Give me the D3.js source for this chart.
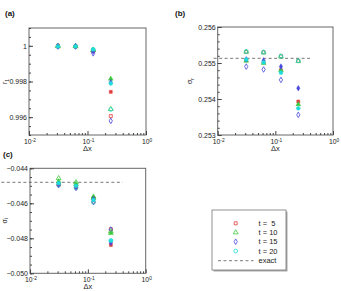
<!DOCTYPE html>
<html>
<head>
<meta charset="utf-8">
<script src="https://cdn.jsdelivr.net/npm/d3@7"></script>
<style>
  body { margin: 0; background: #fff; }
  svg { display: block; font-family: "Liberation Sans", Arial, sans-serif; }
</style>
</head>
<body>
<svg id="chart" width="341" height="291"></svg>
<script>
// grid spacings
const dx = [0.03125, 0.0625, 0.125, 0.25];
const seriesNames = ["t =  5", "t = 10", "t = 15", "t = 20"];

// panel (a): r_1  -- rows are t=5,10,15,20
const rOpen = [
    [0.99997, 0.99997, 0.99972, 0.99606],
    [0.99997, 0.99997, 0.99975, 0.99645],
    [0.99996, 0.99996, 0.99958, 0.99579],
    [0.99998, 0.99998, 0.99980, 0.99643]
];
const rFilled = [
    [1.00000, 0.99998, 0.99975, 0.99742],
    [1.00000, 0.99999, 0.99978, 0.99815],
    [0.99999, 0.99998, 0.99968, 0.99795],
    [0.99997, 0.99997, 0.99980, 0.99789]
];

// panel (b): sigma_r
const sigRExact = 0.25513;
const sigROpen = [
    [0.25531, 0.25530, 0.25519, 0.25506],
    [0.25531, 0.25529, 0.25518, 0.25505],
    [0.25490, 0.25482, 0.25453, 0.25356],
    [0.25532, 0.25530, 0.25519, 0.25506]
];
const sigRFilled = [
    [0.25508, 0.25502, 0.25480, 0.25393],
    [0.25506, 0.25500, 0.25480, 0.25385],
    [0.25510, 0.25507, 0.25490, 0.25430],
    [0.25510, 0.25502, 0.25473, 0.25374]
];

// panel (c): sigma_i
const sigIExact = -0.0448;
const sigIOpen = [
    [-0.04495, -0.04510, -0.04592, -0.04748],
    [-0.04457, -0.04480, -0.04570, -0.04760],
    [-0.04497, -0.04512, -0.04593, -0.04750],
    [-0.04495, -0.04511, -0.04594, -0.04812]
];
const sigIFilled = [
    [-0.04490, -0.04505, -0.04570, -0.04838],
    [-0.04475, -0.04490, -0.04562, -0.04771],
    [-0.04490, -0.04505, -0.04575, -0.04825],
    [-0.04485, -0.04500, -0.04581, -0.04814]
];

const colors = ["#e03c3c", "#3cc83c", "#4646dc", "#1edcdc"];
const shapes = [d3.symbolSquare, d3.symbolTriangle, d3.symbolDiamond, d3.symbolCircle];
const shapeSize = [9, 10, 9, 11];

const svg = d3.select("#chart");

function drawPanel(p) {
    const x = d3.scaleLog().domain([0.01, 1]).range([p.left, p.right]);
    const y = d3.scaleLinear().domain(p.yDomain).range([p.bottom, p.top]);
    const g = svg.append("g");

    // frame
    g.append("rect")
        .attr("x", p.left).attr("y", p.top)
        .attr("width", p.right - p.left).attr("height", p.bottom - p.top)
        .attr("fill", "none").attr("stroke", "#666").attr("stroke-width", 1);

    // x axis, log ticks inward
    const xMinor = [];
    [0.01, 0.1].forEach(dec => { for (let k = 2; k <= 9; k++) xMinor.push(dec * k); });
    g.append("g").attr("transform", `translate(0,${p.bottom})`)
        .call(d3.axisBottom(x).tickValues(xMinor).tickSize(-2).tickFormat(""))
        .call(s => s.select(".domain").remove())
        .selectAll("line").attr("stroke", "#444");
    const xAx = g.append("g").attr("transform", `translate(0,${p.bottom})`)
        .call(d3.axisBottom(x).tickValues([0.01, 0.1, 1]).tickSize(-4).tickFormat(""))
        .call(s => s.select(".domain").remove());
    xAx.selectAll("line").attr("stroke", "#444");
    xAx.selectAll(".tick text").remove();
    [[0.01, "-2"], [0.1, "-1"], [1, "0"]].forEach(([v, e]) => {
        const t = g.append("text").attr("x", x(v) + 1).attr("y", p.bottom + 9)
            .attr("text-anchor", "middle").attr("font-size", 6.8).attr("fill", "#222");
        t.append("tspan").text("10");
        t.append("tspan").attr("dy", -2.5).attr("font-size", 4.8).text(e);
    });
    g.append("text").attr("x", (p.left + p.right) / 2).attr("y", p.bottom + 15.5)
        .attr("text-anchor", "middle").attr("font-size", 7.5).attr("fill", "#222").text("\u0394x");

    // y axis
    g.append("g").attr("transform", `translate(${p.left},0)`)
        .call(d3.axisLeft(y).tickValues(d3.range(p.yDomain[0], p.yDomain[1] + p.yMinor / 2, p.yMinor)).tickSize(-2).tickFormat(""))
        .call(s => s.select(".domain").remove())
        .selectAll("line").attr("stroke", "#444");
    const yAx = g.append("g").attr("transform", `translate(${p.left},0)`)
        .call(d3.axisLeft(y).tickValues(p.yTicks).tickSize(-4).tickPadding(2).tickFormat(p.yFormat))
        .call(s => s.select(".domain").remove());
    yAx.selectAll("line").attr("stroke", "#444");
    yAx.selectAll("text").attr("font-size", 7).attr("fill", "#222")
        .attr("font-family", "'Liberation Sans', Arial, sans-serif");

    const yl = g.append("text")
        .attr("transform", `translate(${p.yLabelX},${(p.top + p.bottom) / 2}) rotate(-90)`)
        .attr("text-anchor", "middle").attr("font-size", 7).attr("fill", "#222");
    yl.append("tspan").text(p.yLabel);
    yl.append("tspan").attr("dy", 1.8).attr("font-size", 5).text(p.yLabelSub);

    g.append("text").attr("x", p.tagX).attr("y", p.tagY)
        .attr("font-size", 8).attr("font-weight", "bold").attr("fill", "#111").text(p.tag);

    // exact solution
    if (p.exact !== undefined) {
        g.append("path")
            .datum([p.exactFrom, 0.4])
            .attr("fill", "none").attr("stroke", "#555").attr("stroke-width", 0.8)
            .attr("stroke-dasharray", "3,2.5")
            .attr("d", d3.line().x(d => x(d)).y(() => y(p.exact)));
    }

    // open markers
    p.open.forEach((vals, si) => {
        g.selectAll(null).data(vals).join("path")
            .attr("transform", (d, i) => `translate(${x(dx[i])},${y(d)})`)
            .attr("d", d3.symbol().type(shapes[si]).size(shapeSize[si]))
            .attr("fill", "none").attr("stroke", colors[si]).attr("stroke-width", 0.8);
    });
    // filled markers
    p.filled.forEach((vals, si) => {
        g.selectAll(null).data(vals).join("path")
            .attr("transform", (d, i) => `translate(${x(dx[i])},${y(d)})`)
            .attr("d", d3.symbol().type(shapes[si]).size(shapeSize[si]))
            .attr("fill", colors[si]).attr("stroke", colors[si]).attr("stroke-width", 0.5);
    });
}

drawPanel({
    left: 29, right: 146, top: 28, bottom: 135,
    yDomain: [0.995, 1.001], yTicks: [0.996, 0.998, 1.0], yMinor: 0.0005,
    yFormat: d => d === 1 ? "1" : d3.format(".3f")(d),
    yLabel: "r", yLabelSub: "1", yLabelX: 6.8,
    tag: "(a)", tagX: 5, tagY: 16,
    open: rOpen, filled: rFilled
});

drawPanel({
    left: 217.7, right: 333, top: 27, bottom: 135,
    yDomain: [0.253, 0.256], yTicks: [0.253, 0.254, 0.255, 0.256], yMinor: 0.0002,
    yFormat: d3.format(".3f"),
    yLabel: "\u03c3", yLabelSub: "r", yLabelX: 192,
    tag: "(b)", tagX: 175, tagY: 16,
    exact: sigRExact, exactFrom: 0.0085,
    open: sigROpen, filled: sigRFilled
});

drawPanel({
    left: 30, right: 145.7, top: 168.3, bottom: 273.3,
    yDomain: [-0.050, -0.044], yTicks: [-0.050, -0.048, -0.046, -0.044], yMinor: 0.0005,
    yFormat: d3.format(".3f"),
    yLabel: "\u03c3", yLabelSub: "i", yLabelX: 6.5,
    tag: "(c)", tagX: 3, tagY: 157,
    exact: sigIExact, exactFrom: 0.0032,
    open: sigIOpen, filled: sigIFilled
});

// legend
const lg = svg.append("g");
lg.append("rect").attr("x", 213.5).attr("y", 211.5).attr("width", 74).attr("height", 60).attr("fill", "#aaa");
lg.append("rect").attr("x", 212).attr("y", 210).attr("width", 74).attr("height", 60)
    .attr("fill", "#fff").attr("stroke", "#777").attr("stroke-width", 0.8);
const rowY = [223.3, 232.5, 241.7, 251];
seriesNames.forEach((name, i) => {
    lg.append("path").attr("transform", `translate(235.7,${rowY[i]})`)
        .attr("d", d3.symbol().type(shapes[i]).size(shapeSize[i]))
        .attr("fill", "none").attr("stroke", colors[i]).attr("stroke-width", 0.8);
    lg.append("text").attr("x", 258.5).attr("y", rowY[i] + 2.6)
        .attr("font-size", 7.5).attr("fill", "#222").attr("xml:space", "preserve").text(name);
});
lg.append("line").attr("x1", 218).attr("x2", 253.5).attr("y1", 260.7).attr("y2", 260.7)
    .attr("stroke", "#555").attr("stroke-width", 0.8).attr("stroke-dasharray", "3,2.5");
lg.append("text").attr("x", 258.5).attr("y", 263.3).attr("font-size", 7.5).attr("fill", "#222").text("exact");
</script>
</body>
</html>
